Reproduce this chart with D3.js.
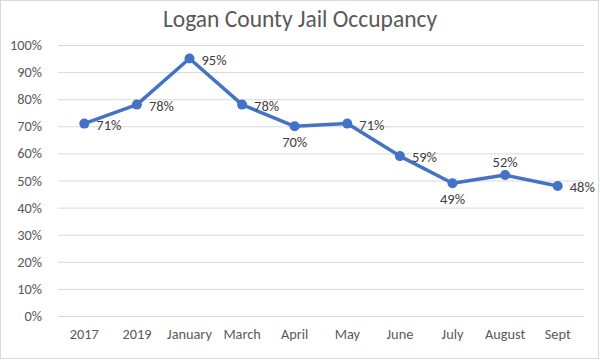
<!DOCTYPE html>
<html><head><meta charset="utf-8">
<script src="https://cdn.jsdelivr.net/npm/d3@7"></script>
<style>body{margin:0;background:#fff}svg{display:block}</style>
</head><body>
<svg id="c" width="600" height="360"></svg>
<script>
const categories = ["2017","2019","January","March","April","May","June","July","August","Sept"];
const values = [71,78,95,78,70,71,59,49,52,48];
const labelPos = ["right","right","right","right","below","right","right","below","above","right"];
const yTicks = [0,10,20,30,40,50,60,70,80,90,100];
const title = "Logan County Jail Occupancy";

const svg = d3.select("#c");
const font = "Calibri, Carlito, 'Liberation Sans', Arial, sans-serif";
svg.append("rect").attr("x",0.5).attr("y",0.5).attr("width",598).attr("height",358)
  .attr("fill","#fff").attr("stroke","#d9d9d9");

const x = d3.scaleBand().domain(categories).range([58,584]);
const y = d3.scaleLinear().domain([0,100]).range([316,45]);

svg.append("text").attr("x",300).attr("y",27).attr("text-anchor","middle")
  .attr("font-family",font).attr("font-size",23.5).attr("fill","#595959").text(title);

const gy = svg.append("g").attr("transform","translate(58,0)")
  .call(d3.axisLeft(y).tickValues(yTicks).tickSize(-526).tickFormat(d=>d+"%").tickPadding(16));
gy.select(".domain").remove();
gy.selectAll("line").attr("stroke","#d9d9d9").attr("stroke-width",1);
gy.selectAll("text").attr("font-family",font).attr("font-size",14.3).attr("fill","#595959");

const gx = svg.append("g").attr("transform","translate(0,316)")
  .call(d3.axisBottom(x).tickSize(0).tickPadding(13));
gx.select(".domain").remove();
gx.selectAll("text").attr("font-family",font).attr("font-size",14.3).attr("fill","#595959");

const data = categories.map((c,i)=>({c,v:values[i],p:labelPos[i]}));
svg.append("path").datum(data)
  .attr("d", d3.line().x(d=>x(d.c)+x.bandwidth()/2).y(d=>y(d.v)))
  .attr("fill","none").attr("stroke","#4472C4").attr("stroke-width",3.5).attr("stroke-linejoin","round");
svg.selectAll("circle.pt").data(data).join("circle")
  .attr("cx",d=>x(d.c)+x.bandwidth()/2).attr("cy",d=>y(d.v)).attr("r",5).attr("fill","#4472C4");

svg.selectAll("text.lbl").data(data).join("text").attr("class","lbl")
  .attr("x",d=>{const cx=x(d.c)+x.bandwidth()/2; return d.p==="right"?cx+12:cx;})
  .attr("y",d=>{const cy=y(d.v); return d.p==="below"?cy+16:d.p==="above"?cy-13:cy+1;})
  .attr("dy","0.35em")
  .attr("text-anchor",d=>d.p==="right"?"start":"middle")
  .attr("font-family",font).attr("font-size",14.5).attr("fill","#404040")
  .text(d=>d.v+"%");
</script>
</body></html>
